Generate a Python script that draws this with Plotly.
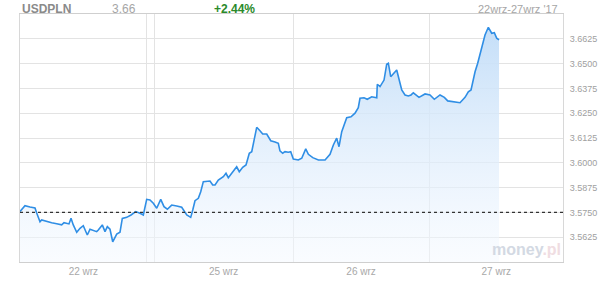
import plotly.graph_objects as go

# time in hours from the start of the 22 wrz session, rate USD/PLN
hours = [0, 0.88, 1.77, 2.65, 2.95, 3.54, 3.83, 4.72, 5.60, 6.49, 7.37, 7.78, 8.26, 8.66,
         9.02, 9.42, 10.03, 10.61, 11.19, 11.90, 12.38, 12.96, 13.56, 13.84, 14.55, 15.03,
         15.44, 15.91, 16.39, 17.10, 17.68, 18.09, 18.87, 19.63, 20.46, 21.22, 21.80, 22.40,
         22.98, 23.57, 24.17, 24.88, 25.46, 26.05, 26.82, 27.71, 28.59, 29.48, 30.18, 30.54,
         30.94, 31.53, 31.95, 32.41, 33.01, 33.59, 34.07, 34.48, 35.06, 35.95, 36.42, 36.83,
         37.43, 38.31, 38.77, 39.37, 39.96, 40.54, 40.97, 41.85, 42.43, 42.91, 43.62, 44.33,
         45.08, 45.67, 45.96, 46.44, 46.85, 47.43, 47.86, 48.32, 49.21, 49.81, 50.52, 50.98,
         51.76, 52.75, 53.93, 54.81, 55.40, 55.99, 56.40, 56.88, 57.76, 58.52, 59.23, 59.81,
         60.11, 60.82, 61.40, 62.18, 63.07, 63.17, 63.65, 64.36, 64.83, 65.12, 65.54, 66.00,
         66.60, 67.19, 67.49, 68.07, 68.66, 69.13, 69.54, 70.54, 71.61, 72.49, 73.25, 74.26,
         75.02, 75.62, 76.61, 77.79, 78.68, 79.26, 79.74, 80.45, 80.92, 81.63, 82.21, 82.80,
         83.40, 83.86, 84.28, 84.69]
rate = [3.5754, 3.5784, 3.5777, 3.5772, 3.5747, 3.5703, 3.5712, 3.5703, 3.5698, 3.5693,
        3.5687, 3.5698, 3.5693, 3.5692, 3.5720, 3.5687, 3.5650, 3.5670, 3.5683, 3.5636,
        3.5665, 3.5658, 3.5653, 3.5661, 3.5687, 3.5653, 3.5678, 3.5665, 3.5602, 3.5641,
        3.5650, 3.5720, 3.5725, 3.5737, 3.5754, 3.5746, 3.5737, 3.5816, 3.5813, 3.5796,
        3.5771, 3.5816, 3.5779, 3.5766, 3.5787, 3.5782, 3.5776, 3.5737, 3.5725, 3.5762,
        3.5809, 3.5821, 3.5854, 3.5905, 3.5908, 3.5908, 3.5888, 3.5888, 3.5913, 3.5930,
        3.5947, 3.5925, 3.5947, 3.5980, 3.5955, 3.5977, 3.5989, 3.6048, 3.6056, 3.6179,
        3.6162, 3.6145, 3.6145, 3.6111, 3.6105, 3.6098, 3.6060, 3.6048, 3.6056, 3.6053,
        3.6056, 3.6019, 3.6014, 3.6023, 3.6070, 3.6043, 3.6026, 3.6014, 3.6014, 3.6043,
        3.6090, 3.6124, 3.6081, 3.6157, 3.6227, 3.6232, 3.6250, 3.6278, 3.6325, 3.6328,
        3.6320, 3.6333, 3.6328, 3.6396, 3.6384, 3.6417, 3.6497, 3.6502, 3.6434, 3.6451,
        3.6468, 3.6401, 3.6367, 3.6342, 3.6337, 3.6342, 3.6353, 3.6330, 3.6347, 3.6342,
        3.6320, 3.6342, 3.6330, 3.6312, 3.6308, 3.6303, 3.6330, 3.6358, 3.6367, 3.6459,
        3.6502, 3.6577, 3.6644, 3.6683, 3.6653, 3.6656, 3.6628, 3.6619]

prev_close = 3.575
session_bounds = [22.45, 23.7, 48.27, 72.31]
day_centers = [11.2, 36.0, 60.3, 84.2]
day_labels = ["22 wrz", "25 wrz", "26 wrz", "27 wrz"]
y_ticks = [3.5625, 3.575, 3.5875, 3.6, 3.6125, 3.625, 3.6375, 3.65, 3.6625]
y_ticktext = ["3.5625", "3.5750", "3.5875", "3.6000", "3.6125", "3.6250", "3.6375", "3.6500", "3.6625"]

grid = "#e3e3e3"
fig = go.Figure()
fig.add_trace(go.Scatter(
    x=hours, y=rate, mode="lines",
    line=dict(color="#2f8ee5", width=1.6),
    fill="tozeroy",
    fillgradient=dict(type="vertical", start=3.55, stop=3.6683,
                      colorscale=[[0, "rgba(244,249,255,0.5)"], [1, "rgba(196,222,248,1)"]]),
    hoverinfo="skip", showlegend=False,
))
fig.add_shape(type="line", xref="paper", x0=0, x1=1, yref="y", y0=prev_close, y1=prev_close,
              line=dict(color="#333333", width=1.2, dash="dot"))

fig.update_layout(
    width=600, height=282,
    margin=dict(l=20, r=37, t=14, b=20),
    paper_bgcolor="white", plot_bgcolor="white",
    font=dict(family="Liberation Sans, Arial, sans-serif", color="#999999"),
    xaxis=dict(range=[0, 96], tickmode="array", tickvals=day_centers, ticktext=day_labels,
               showgrid=False, zeroline=False, ticks="", tickfont=dict(size=10, color="#a8a8a8"),
               showline=True, linecolor="#cfcfcf", mirror=True, automargin=False,
               minor=dict(tickmode="array", tickvals=session_bounds, showgrid=True,
                          gridcolor=grid, gridwidth=1, ticks="")),
    yaxis=dict(range=[3.55, 3.675], side="right", tickmode="array", tickvals=y_ticks,
               ticktext=y_ticktext, showgrid=True, gridcolor=grid, zeroline=False, ticks="",
               tickfont=dict(size=9, color="#a0a0a0"), showline=True, linecolor="#d8d8d8",
               mirror=True, ticklabelstandoff=4, automargin=False),
)
fig.add_annotation(text="<b>USDPLN</b>", xref="paper", yref="paper", x=0, y=1, xanchor="left",
                   yanchor="bottom", yshift=-4, showarrow=False, font=dict(size=12, color="#8a8a8a"))
fig.add_annotation(text="3.66", xref="paper", yref="paper", x=0.166, y=1, xanchor="left",
                   yanchor="bottom", yshift=-4, showarrow=False, font=dict(size=12, color="#a6a6a6"))
fig.add_annotation(text="<b>+2.44%</b>", xref="paper", yref="paper", x=0.354, y=1, xanchor="left",
                   yanchor="bottom", yshift=-4, showarrow=False, font=dict(size=12, color="#2a8a2a"))
fig.add_annotation(text="22wrz-27wrz '17", xref="paper", yref="paper", x=0.995, y=1, xanchor="right",
                   yanchor="bottom", yshift=-3, showarrow=False, font=dict(size=11, color="#a6a6a6"))
fig.add_annotation(text="<b>money</b><span style='color:#f0dde2'><b>.pl</b></span>", xref="paper", yref="paper",
                   x=1, y=0, xanchor="right", yanchor="bottom", yshift=2, showarrow=False,
                   font=dict(size=16, color="#d3d9e3"))

fig.write_html("out.html")
